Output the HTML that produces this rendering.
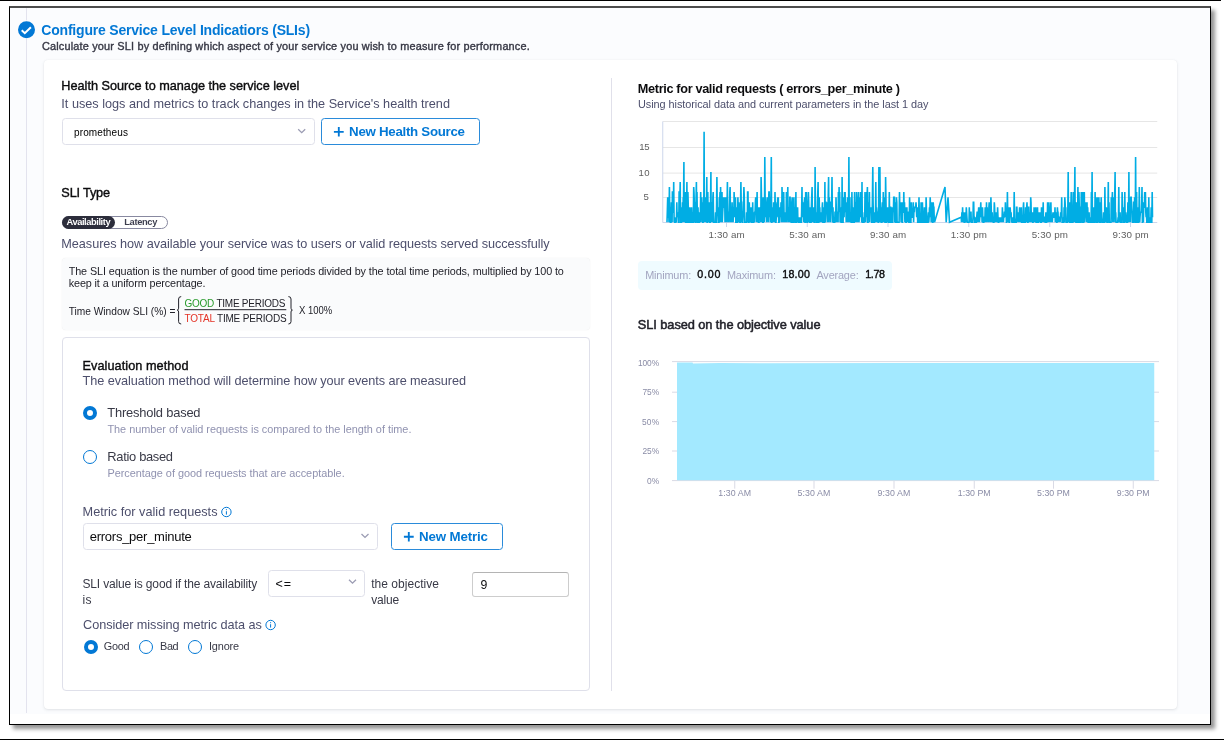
<!DOCTYPE html>
<html>
<head>
<meta charset="utf-8">
<title>Configure Service Level Indicators</title>
<style>
html,body{margin:0;padding:0;}
body{width:1224px;height:740px;background:#fff;position:relative;overflow:hidden;font-family:"Liberation Sans",sans-serif;}
.abs{position:absolute;box-sizing:border-box;}
.t{position:absolute;white-space:pre;line-height:20px;font-family:"Liberation Sans",sans-serif;}
.card{background:#fff;border-radius:4px;box-shadow:0 0 1px rgba(40,41,61,.08),0 1px 3px rgba(96,97,112,.16);}
.sel{background:#fff;border:1px solid #dfe0ea;border-radius:3.5px;}
.btn{background:#fff;border:1px solid #2a8bda;border-radius:3.5px;}
.radio{border-radius:50%;background:#fff;border:1px solid #0278d5;width:14px;height:14px;}
.radio.on{border:4px solid #0278d5;}
svg{position:absolute;left:0;top:0;overflow:visible;}
</style>
</head>
<body>
<!-- outer screenshot frame -->
<div class="abs" style="left:0;top:0;width:1221px;height:1px;background:#000;"></div>
<div class="abs" style="left:0;top:739px;width:1224px;height:1px;background:#000;"></div>
<div class="abs" style="left:9px;top:6px;width:1202px;height:719px;background:#fff;border:1px solid #000;border-top:2px solid #4d4d4d;box-shadow:4px 4px 4px rgba(0,0,0,.42);"></div>
<!-- page background -->
<div class="abs" style="left:10px;top:8px;width:1200px;height:706px;background:#fbfcfe;"></div>
<!-- stepper line + check -->
<div class="abs" style="left:26px;top:8px;width:1px;height:705px;background:#e3e3ee;"></div>
<svg width="1224" height="740">
  <circle cx="26.5" cy="29.7" r="9.4" fill="#fbfcfe"/>
  <circle cx="26.5" cy="29.7" r="8.5" fill="#0278d5"/>
  <path d="M21.7 30.3 L24.8 33.2 L30.9 27.2" fill="none" stroke="#fff" stroke-width="2"/>
</svg>

<!-- main card -->
<div class="abs card" style="left:44px;top:60px;width:1133px;height:649px;"></div>

<!-- health source select -->
<div class="abs sel" style="left:62px;top:118px;width:252.5px;height:27px;"></div>
<!-- new health source button -->
<div class="abs btn" style="left:321px;top:118px;width:159px;height:27px;"></div>

<!-- SLI type pill -->
<div class="abs" style="left:62px;top:215.5px;width:106px;height:13.5px;border:1px solid #8889a0;border-radius:7px;background:#fff;"></div>
<div class="abs" style="left:62px;top:215.5px;width:53px;height:13.5px;border-radius:7px;background:#2c2d3b;"></div>

<!-- equation box -->
<div class="abs" style="left:61.5px;top:258px;width:528.5px;height:72px;background:#fafbfc;border-radius:4px;box-shadow:0 0 1px rgba(40,41,61,.12);"></div>

<!-- evaluation card -->
<div class="abs" style="left:62px;top:337px;width:528px;height:353.5px;background:#fff;border:1px solid #dfe0ea;border-radius:4px;"></div>

<!-- radios -->
<div class="abs radio on" style="left:83.4px;top:406.1px;"></div>
<div class="abs radio" style="left:83.4px;top:449.9px;"></div>
<div class="abs radio on" style="left:83.5px;top:639.9px;"></div>
<div class="abs radio" style="left:139.25px;top:639.9px;"></div>
<div class="abs radio" style="left:188px;top:639.9px;"></div>

<!-- metric select / button -->
<div class="abs sel" style="left:83.25px;top:523px;width:294.5px;height:27px;"></div>
<div class="abs btn" style="left:391px;top:523px;width:112px;height:27px;"></div>
<!-- operator select / value input -->
<div class="abs sel" style="left:268px;top:570px;width:97px;height:26.5px;"></div>
<div class="abs" style="left:472.25px;top:571.75px;width:97px;height:25px;background:#fff;border:1px solid #cdcdcd;border-top-color:#b4b4b4;border-radius:3px;"></div>

<!-- divider -->
<div class="abs" style="left:610.5px;top:78px;width:1px;height:613px;background:#e0e0ea;"></div>

<!-- stats box -->
<div class="abs" style="left:638.25px;top:261.25px;width:253.75px;height:28.75px;background:#effbff;border-radius:4px;"></div>

<!-- icons + charts -->
<svg width="1224" height="740">
  <!-- chevrons -->
  <g fill="none" stroke="#9b9cb3" stroke-width="1.3">
    <path d="M298.2 129.2 L301.7 132.6 L305.2 129.2"/>
    <path d="M361.5 534 L365 537.4 L368.5 534"/>
    <path d="M349 579.7 L352.5 583.1 L356 579.7"/>
  </g>
  <!-- plus icons -->
  <g fill="none" stroke="#0278d5" stroke-width="1.85">
    <path d="M333.9 131.8 H343.7 M338.8 127 V136.6"/>
    <path d="M403.9 536.7 H413.7 M408.8 531.9 V541.5"/>
  </g>
  <!-- info icons -->
  <g fill="none" stroke="#0278d5" stroke-width="1">
    <circle cx="226.4" cy="512" r="4.7"/>
    <path d="M226.4 511.2 V514.6 M226.4 509.2 V510.2"/>
    <circle cx="270.6" cy="625" r="4.7"/>
    <path d="M270.6 624.2 V627.6 M270.6 622.2 V623.2"/>
  </g>
  <!-- equation braces + fraction line -->
  <g fill="none" stroke="#22222a" stroke-width="1">
    <path d="M181.2 296.6 Q178.6 296.6 178.6 299 V308.2 Q178.6 310 177.2 310.1 Q178.6 310.2 178.6 312 V321.6 Q178.6 324 181.2 324"/>
    <path d="M288.4 296.6 Q291 296.6 291 299 V308.2 Q291 310 292.4 310.1 Q291 310.2 291 312 V321.6 Q291 324 288.4 324"/>
    <path d="M184.5 309.7 H286.3"/>
  </g>

  <!-- chart 1 -->
  <g fill="none" stroke="#e6e6e6" stroke-width="1">
    <path d="M662.75 121.5 H1157.25 M662.75 147.5 H1157.25 M662.75 173.1 H1157.25 M662.75 197.5 H1157.25"/>
  </g>
  <g fill="none" stroke="#ccd6eb" stroke-width="1">
    <path d="M662.75 121.5 V222.5 H1157.25"/>
    <path d="M726.5 222.5 V227 M807.25 222.5 V227 M888 222.5 V227 M968.75 222.5 V227 M1049.75 222.5 V227 M1130.5 222.5 V227"/>
  </g>
  <polyline fill="none" stroke="#00ade4" stroke-width="1.6" stroke-linejoin="miter" points="667.0,222.3 667.3,212.2 667.7,197.2 668.0,217.3 668.3,217.3 668.7,212.2 669.0,222.3 669.4,187.1 669.7,212.2 670.0,207.2 670.4,222.3 670.7,222.3 671.0,222.3 671.4,202.2 671.7,207.2 672.1,222.3 672.4,192.1 672.7,192.1 673.1,212.2 673.4,212.2 673.7,182.1 674.1,222.3 674.4,217.3 674.8,222.3 675.1,222.3 675.4,222.3 675.8,222.3 676.1,217.3 676.4,222.3 676.8,202.2 677.1,217.3 677.5,212.2 677.8,217.3 678.1,212.2 678.5,222.3 678.8,222.3 679.1,192.1 679.5,192.1 679.8,202.2 680.2,182.1 680.5,222.3 680.8,222.3 681.2,222.3 681.5,222.3 681.8,207.2 682.2,222.3 682.5,202.2 682.9,222.3 683.2,197.2 683.5,202.2 683.9,161.9 684.2,222.3 684.5,197.2 684.9,217.3 685.2,192.1 685.6,222.3 685.9,222.3 686.2,212.2 686.6,207.2 686.9,182.1 687.2,222.3 687.6,222.3 687.9,192.1 688.3,207.2 688.6,222.3 688.9,222.3 689.3,222.3 689.6,222.3 689.9,207.2 690.3,222.3 690.6,212.2 691.0,222.3 691.3,222.3 691.6,207.2 692.0,222.3 692.3,212.2 692.6,222.3 693.0,222.3 693.3,222.3 693.7,187.1 694.0,192.1 694.3,202.2 694.7,222.3 695.0,202.2 695.3,222.3 695.7,222.3 696.0,202.2 696.4,182.1 696.7,222.3 697.0,192.1 697.4,222.3 697.7,222.3 698.0,207.2 698.4,222.3 698.7,222.3 699.1,222.3 699.4,222.3 699.7,212.2 700.1,222.3 700.4,212.2 700.7,192.1 701.1,222.3 701.4,197.2 701.8,217.3 702.1,212.2 702.4,202.2 702.8,222.3 703.1,222.3 703.4,197.2 703.8,202.2 704.1,131.8 704.4,222.3 704.8,207.2 705.1,197.2 705.5,222.3 705.8,197.2 706.1,202.2 706.5,212.2 706.8,177.0 707.1,222.3 707.5,222.3 707.8,192.1 708.2,222.3 708.5,207.2 708.8,222.3 709.2,202.2 709.5,212.2 709.8,222.3 710.2,222.3 710.5,207.2 710.9,172.0 711.2,222.3 711.5,212.2 711.9,202.2 712.2,212.2 712.5,222.3 712.9,197.2 713.2,192.1 713.6,222.3 713.9,222.3 714.2,222.3 714.6,222.3 714.9,222.3 715.2,222.3 715.6,212.2 715.9,222.3 716.3,222.3 716.6,202.2 716.9,177.0 717.3,212.2 717.6,207.2 717.9,212.2 718.3,222.3 718.6,222.3 719.0,222.3 719.3,197.2 719.6,207.2 720.0,192.1 720.3,222.3 720.6,187.1 721.0,217.3 721.3,207.2 721.7,222.3 722.0,192.1 722.3,222.3 722.7,212.2 723.0,207.2 723.3,197.2 723.7,207.2 724.0,207.2 724.4,207.2 724.7,197.2 725.0,222.3 725.4,207.2 725.7,197.2 726.0,202.2 726.4,222.3 726.7,207.2 727.1,202.2 727.4,182.1 727.7,212.2 728.1,222.3 728.4,212.2 728.7,212.2 729.1,222.3 729.4,212.2 729.8,192.1 730.1,187.1 730.4,207.2 730.8,222.3 731.1,207.2 731.4,212.2 731.8,222.3 732.1,202.2 732.5,222.3 732.8,207.2 733.1,222.3 733.5,212.2 733.8,217.3 734.1,192.1 734.5,207.2 734.8,217.3 735.2,212.2 735.5,197.2 735.8,222.3 736.2,222.3 736.5,222.3 736.8,207.2 737.2,222.3 737.5,222.3 737.9,197.2 738.2,212.2 738.5,222.3 738.9,202.2 739.2,222.3 739.5,212.2 739.9,222.3 740.2,222.3 740.6,202.2 740.9,182.1 741.2,202.2 741.6,222.3 741.9,212.2 742.2,222.3 742.6,222.3 742.9,217.3 743.2,202.2 743.6,202.2 743.9,187.1 744.3,197.2 744.6,222.3 744.9,222.3 745.3,222.3 745.6,222.3 745.9,222.3 746.3,222.3 746.6,212.2 747.0,217.3 747.3,222.3 747.6,192.1 748.0,192.1 748.3,222.3 748.6,222.3 749.0,222.3 749.3,202.2 749.7,222.3 750.0,207.2 750.3,212.2 750.7,222.3 751.0,207.2 751.3,222.3 751.7,222.3 752.0,222.3 752.4,222.3 752.7,202.2 753.0,222.3 753.4,222.3 753.7,222.3 754.0,212.2 754.4,222.3 754.7,212.2 755.1,212.2 755.4,202.2 755.7,197.2 756.1,207.2 756.4,222.3 756.7,217.3 757.1,192.1 757.4,222.3 757.8,217.3 758.1,207.2 758.4,222.3 758.8,222.3 759.1,222.3 759.4,207.2 759.8,217.3 760.1,212.2 760.5,207.2 760.8,222.3 761.1,177.0 761.5,197.2 761.8,222.3 762.1,197.2 762.5,207.2 762.8,222.3 763.2,222.3 763.5,212.2 763.8,197.2 764.2,222.3 764.5,212.2 764.8,156.9 765.2,207.2 765.5,197.2 765.9,217.3 766.2,212.2 766.5,222.3 766.9,207.2 767.2,202.2 767.5,197.2 767.9,207.2 768.2,222.3 768.6,202.2 768.9,192.1 769.2,192.1 769.6,217.3 769.9,207.2 770.2,222.3 770.6,197.2 770.9,202.2 771.3,156.9 771.6,222.3 771.9,222.3 772.3,212.2 772.6,207.2 772.9,217.3 773.3,222.3 773.6,202.2 774.0,222.3 774.3,207.2 774.6,222.3 775.0,192.1 775.3,207.2 775.6,222.3 776.0,222.3 776.3,217.3 776.7,207.2 777.0,202.2 777.3,207.2 777.7,197.2 778.0,217.3 778.3,197.2 778.7,222.3 779.0,222.3 779.3,217.3 779.7,222.3 780.0,207.2 780.4,212.2 780.7,217.3 781.0,202.2 781.4,212.2 781.7,222.3 782.0,187.1 782.4,202.2 782.7,197.2 783.1,222.3 783.4,202.2 783.7,192.1 784.1,217.3 784.4,212.2 784.7,222.3 785.1,217.3 785.4,217.3 785.8,212.2 786.1,222.3 786.4,192.1 786.8,217.3 787.1,222.3 787.4,202.2 787.8,187.1 788.1,217.3 788.5,207.2 788.8,222.3 789.1,217.3 789.5,222.3 789.8,197.2 790.1,197.2 790.5,222.3 790.8,217.3 791.2,222.3 791.5,222.3 791.8,202.2 792.2,197.2 792.5,217.3 792.8,222.3 793.2,222.3 793.5,212.2 793.9,197.2 794.2,222.3 794.5,207.2 794.9,222.3 795.2,222.3 795.5,222.3 795.9,192.1 796.2,222.3 796.6,222.3 796.9,212.2 797.2,222.3 797.6,207.2 797.9,222.3 798.2,217.3 798.6,222.3 798.9,222.3 799.3,217.3 799.6,222.3 799.9,222.3 800.3,222.3 800.6,217.3 800.9,222.3 801.3,222.3 801.6,212.2 802.0,187.1 802.3,217.3 802.6,202.2 803.0,212.2 803.3,202.2 803.6,222.3 804.0,207.2 804.3,202.2 804.7,197.2 805.0,222.3 805.3,222.3 805.7,192.1 806.0,222.3 806.3,192.1 806.7,202.2 807.0,222.3 807.4,222.3 807.7,207.2 808.0,222.3 808.4,192.1 808.7,202.2 809.0,222.3 809.4,207.2 809.7,222.3 810.1,222.3 810.4,207.2 810.7,222.3 811.1,222.3 811.4,207.2 811.7,197.2 812.1,187.1 812.4,222.3 812.8,217.3 813.1,207.2 813.4,217.3 813.8,207.2 814.1,222.3 814.4,222.3 814.8,222.3 815.1,167.0 815.5,212.2 815.8,217.3 816.1,212.2 816.5,222.3 816.8,222.3 817.1,222.3 817.5,202.2 817.8,192.1 818.1,182.1 818.5,222.3 818.8,222.3 819.2,197.2 819.5,217.3 819.8,207.2 820.2,222.3 820.5,217.3 820.8,217.3 821.2,222.3 821.5,212.2 821.9,222.3 822.2,207.2 822.5,202.2 822.9,222.3 823.2,222.3 823.5,207.2 823.9,222.3 824.2,222.3 824.6,222.3 824.9,182.1 825.2,222.3 825.6,202.2 825.9,202.2 826.2,207.2 826.6,202.2 826.9,212.2 827.3,222.3 827.6,212.2 827.9,217.3 828.3,192.1 828.6,177.0 828.9,222.3 829.3,197.2 829.6,207.2 830.0,207.2 830.3,202.2 830.6,222.3 831.0,202.2 831.3,202.2 831.6,207.2 832.0,177.0 832.3,207.2 832.7,222.3 833.0,207.2 833.3,222.3 833.7,222.3 834.0,217.3 834.3,222.3 834.7,222.3 835.0,212.2 835.4,212.2 835.7,222.3 836.0,197.2 836.4,212.2 836.7,222.3 837.0,212.2 837.4,212.2 837.7,217.3 838.1,222.3 838.4,192.1 838.7,212.2 839.1,187.1 839.4,207.2 839.7,192.1 840.1,222.3 840.4,212.2 840.8,207.2 841.1,222.3 841.4,222.3 841.8,222.3 842.1,177.0 842.4,222.3 842.8,222.3 843.1,222.3 843.5,197.2 843.8,212.2 844.1,217.3 844.5,192.1 844.8,212.2 845.1,192.1 845.5,212.2 845.8,202.2 846.2,222.3 846.5,212.2 846.8,207.2 847.2,222.3 847.5,197.2 847.8,222.3 848.2,217.3 848.5,222.3 848.9,156.9 849.2,212.2 849.5,222.3 849.9,197.2 850.2,222.3 850.5,217.3 850.9,212.2 851.2,222.3 851.6,222.3 851.9,192.1 852.2,212.2 852.6,222.3 852.9,207.2 853.2,222.3 853.6,222.3 853.9,222.3 854.2,222.3 854.6,192.1 854.9,207.2 855.3,222.3 855.6,202.2 855.9,207.2 856.3,222.3 856.6,192.1 856.9,197.2 857.3,222.3 857.6,197.2 858.0,222.3 858.3,217.3 858.6,192.1 859.0,222.3 859.3,217.3 859.6,197.2 860.0,207.2 860.3,217.3 860.7,192.1 861.0,202.2 861.3,212.2 861.7,222.3 862.0,182.1 862.3,222.3 862.7,222.3 863.0,222.3 863.4,217.3 863.7,222.3 864.0,222.3 864.4,212.2 864.7,222.3 865.0,192.1 865.4,212.2 865.7,222.3 866.1,207.2 866.4,217.3 866.7,192.1 867.1,197.2 867.4,187.1 867.7,222.3 868.1,222.3 868.4,202.2 868.8,207.2 869.1,212.2 869.4,192.1 869.8,222.3 870.1,207.2 870.4,212.2 870.8,212.2 871.1,212.2 871.5,207.2 871.8,222.3 872.1,222.3 872.5,192.1 872.8,167.0 873.1,202.2 873.5,222.3 873.8,222.3 874.2,222.3 874.5,222.3 874.8,212.2 875.2,222.3 875.5,212.2 875.8,182.1 876.2,222.3 876.5,207.2 876.9,212.2 877.2,212.2 877.5,222.3 877.9,217.3 878.2,222.3 878.5,222.3 878.9,167.0 879.2,202.2 879.6,222.3 879.9,167.0 880.2,202.2 880.6,212.2 880.9,207.2 881.2,222.3 881.6,222.3 881.9,222.3 882.3,202.2 882.6,222.3 882.9,212.2 883.3,192.1 883.6,222.3 883.9,212.2 884.3,207.2 884.6,197.2 885.0,222.3 885.3,222.3 885.6,177.0 886.0,202.2 886.3,222.3 886.6,222.3 887.0,212.2 887.3,217.3 887.7,207.2 888.0,222.3 888.3,207.2 888.7,222.3 889.0,222.3 889.3,192.1 889.7,222.3 890.0,222.3 890.4,207.2 890.7,207.2 891.0,222.3 891.4,222.3 891.7,222.3 892.0,207.2 892.4,222.3 892.7,222.3 893.0,207.2 893.4,212.2 893.7,197.2 894.1,197.2 894.4,197.2 894.7,222.3 895.1,202.2 895.4,222.3 895.7,222.3 896.1,222.3 896.4,197.2 896.8,202.2 897.1,222.3 897.4,222.3 897.8,222.3 898.1,222.3 898.4,222.3 898.8,222.3 899.1,222.3 899.5,192.1 899.8,207.2 900.1,212.2 900.5,202.2 900.8,212.2 901.1,222.3 901.5,207.2 901.8,202.2 902.2,222.3 902.5,222.3 902.8,202.2 903.2,212.2 903.5,212.2 903.8,192.1 904.2,212.2 904.5,202.2 904.9,222.3 905.2,217.3 905.5,207.2 905.9,222.3 906.2,222.3 906.5,212.2 906.9,207.2 907.2,222.3 907.6,212.2 907.9,222.3 908.2,212.2 908.6,212.2 908.9,222.3 909.2,222.3 909.6,197.2 909.9,217.3 910.3,212.2 910.6,222.3 910.9,222.3 911.3,202.2 911.6,212.2 911.9,217.3 912.3,217.3 912.6,212.2 913.0,212.2 913.3,202.2 913.6,222.3 914.0,207.2 914.3,212.2 914.6,207.2 915.0,207.2 915.3,207.2 915.7,207.2 916.0,202.2 916.3,207.2 916.7,217.3 917.0,212.2 917.3,207.2 917.7,222.3 918.0,222.3 918.4,222.3 918.7,212.2 919.0,197.2 919.4,222.3 919.7,222.3 920.0,222.3 920.4,222.3 920.7,222.3 921.1,202.2 921.4,222.3 921.7,222.3 922.1,222.3 922.4,202.2 922.7,212.2 923.1,222.3 923.4,222.3 923.8,222.3 924.1,217.3 924.4,207.2 924.8,222.3 925.1,222.3 925.4,222.3 925.8,222.3 926.1,197.2 926.5,212.2 926.8,217.3 927.1,222.3 927.5,222.3 927.8,222.3 928.1,222.3 928.5,212.2 928.8,222.3 929.1,217.3 929.5,207.2 929.8,217.3 930.2,197.2 930.5,207.2 930.8,202.2 931.2,222.3 931.5,217.3 931.8,202.2 932.2,217.3 932.5,222.3 932.9,222.3 933.2,202.2 933.5,207.2 933.9,207.2 934.2,217.3 934.5,222.3 945.0,187.1 946.2,222.3 948.0,197.2 949.5,222.3 961.2,217.3 961.5,222.3 961.9,212.2 962.2,222.3 962.6,207.2 962.9,217.3 963.2,212.2 963.6,222.3 963.9,212.2 964.2,222.3 964.6,222.3 964.9,222.3 965.3,217.3 965.6,212.2 965.9,222.3 966.3,207.2 966.6,212.2 966.9,217.3 967.3,222.3 967.6,222.3 967.9,222.3 968.3,222.3 968.6,222.3 969.0,222.3 969.3,207.2 969.6,222.3 970.0,217.3 970.3,217.3 970.6,212.2 971.0,212.2 971.3,222.3 971.7,222.3 972.0,222.3 972.3,222.3 972.7,222.3 973.0,217.3 973.3,202.2 973.7,202.2 974.0,217.3 974.4,217.3 974.7,222.3 975.0,222.3 975.4,222.3 975.7,217.3 976.0,222.3 976.4,222.3 976.7,217.3 977.1,212.2 977.4,212.2 977.7,217.3 978.1,222.3 978.4,212.2 978.7,207.2 979.1,217.3 979.4,222.3 979.8,217.3 980.1,207.2 980.4,212.2 980.8,202.2 981.1,217.3 981.4,212.2 981.8,212.2 982.1,222.3 982.5,207.2 982.8,217.3 983.1,222.3 983.5,222.3 983.8,222.3 984.1,217.3 984.5,217.3 984.8,222.3 985.2,207.2 985.5,222.3 985.8,217.3 986.2,222.3 986.5,202.2 986.8,222.3 987.2,207.2 987.5,217.3 987.9,217.3 988.2,217.3 988.5,222.3 988.9,207.2 989.2,202.2 989.5,212.2 989.9,217.3 990.2,222.3 990.6,212.2 990.9,197.2 991.2,207.2 991.6,222.3 991.9,217.3 992.2,212.2 992.6,222.3 992.9,217.3 993.3,222.3 993.6,222.3 993.9,222.3 994.3,202.2 994.6,207.2 994.9,217.3 995.3,222.3 995.6,217.3 996.0,212.2 996.3,222.3 996.6,217.3 997.0,212.2 997.3,222.3 997.6,207.2 998.0,217.3 998.3,222.3 998.7,222.3 999.0,217.3 999.3,222.3 999.7,217.3 1000.0,222.3 1000.3,217.3 1000.7,222.3 1001.0,217.3 1001.4,222.3 1001.7,217.3 1002.0,222.3 1002.4,207.2 1002.7,217.3 1003.0,217.3 1003.4,222.3 1003.7,217.3 1004.0,217.3 1004.4,212.2 1004.7,212.2 1005.1,217.3 1005.4,202.2 1005.7,212.2 1006.1,212.2 1006.4,222.3 1006.7,222.3 1007.1,217.3 1007.4,192.1 1007.8,217.3 1008.1,217.3 1008.4,222.3 1008.8,207.2 1009.1,222.3 1009.4,222.3 1009.8,212.2 1010.1,207.2 1010.5,212.2 1010.8,217.3 1011.1,212.2 1011.5,222.3 1011.8,217.3 1012.1,222.3 1012.5,222.3 1012.8,222.3 1013.2,217.3 1013.5,222.3 1013.8,222.3 1014.2,192.1 1014.5,217.3 1014.8,222.3 1015.2,222.3 1015.5,222.3 1015.9,222.3 1016.2,222.3 1016.5,207.2 1016.9,207.2 1017.2,217.3 1017.5,212.2 1017.9,222.3 1018.2,212.2 1018.6,222.3 1018.9,212.2 1019.2,217.3 1019.6,207.2 1019.9,222.3 1020.2,212.2 1020.6,222.3 1020.9,217.3 1021.3,207.2 1021.6,222.3 1021.9,222.3 1022.3,222.3 1022.6,222.3 1022.9,222.3 1023.3,207.2 1023.6,202.2 1024.0,222.3 1024.3,222.3 1024.6,217.3 1025.0,222.3 1025.3,222.3 1025.6,207.2 1026.0,222.3 1026.3,217.3 1026.7,207.2 1027.0,202.2 1027.3,217.3 1027.7,222.3 1028.0,222.3 1028.3,207.2 1028.7,207.2 1029.0,222.3 1029.4,212.2 1029.7,222.3 1030.0,217.3 1030.4,222.3 1030.7,197.2 1031.0,202.2 1031.4,222.3 1031.7,217.3 1032.1,222.3 1032.4,212.2 1032.7,222.3 1033.1,222.3 1033.4,212.2 1033.7,222.3 1034.1,207.2 1034.4,212.2 1034.8,212.2 1035.1,222.3 1035.4,217.3 1035.8,207.2 1036.1,222.3 1036.4,222.3 1036.8,222.3 1037.1,222.3 1037.5,207.2 1037.8,222.3 1038.1,222.3 1038.5,222.3 1038.8,217.3 1039.1,212.2 1039.5,222.3 1039.8,217.3 1040.2,212.2 1040.5,217.3 1040.8,222.3 1041.2,222.3 1041.5,207.2 1041.8,217.3 1042.2,222.3 1042.5,217.3 1042.8,222.3 1043.2,202.2 1043.5,222.3 1043.9,217.3 1044.2,217.3 1044.5,222.3 1044.9,217.3 1045.2,222.3 1045.5,222.3 1045.9,212.2 1046.2,222.3 1046.6,222.3 1046.9,212.2 1047.2,222.3 1047.6,202.2 1047.9,217.3 1048.2,222.3 1048.6,207.2 1048.9,202.2 1049.3,222.3 1049.6,217.3 1049.9,212.2 1050.3,222.3 1050.6,207.2 1050.9,202.2 1051.3,222.3 1051.6,217.3 1052.0,217.3 1052.3,222.3 1052.6,217.3 1053.0,212.2 1053.3,217.3 1053.6,217.3 1054.0,212.2 1054.3,217.3 1054.7,217.3 1055.0,207.2 1055.3,222.3 1055.7,212.2 1056.0,222.3 1056.3,217.3 1056.7,222.3 1057.0,222.3 1057.4,207.2 1057.7,212.2 1058.0,212.2 1058.4,222.3 1058.7,217.3 1059.0,222.3 1059.4,217.3 1059.7,217.3 1060.1,222.3 1060.4,217.3 1060.7,212.2 1061.1,217.3 1061.4,212.2 1061.7,197.2 1062.1,222.3 1062.4,222.3 1062.8,217.3 1063.1,222.3 1063.4,222.3 1063.8,222.3 1064.1,207.2 1064.4,222.3 1064.8,197.2 1065.1,202.2 1065.5,212.2 1065.8,207.2 1066.1,222.3 1066.5,222.3 1066.8,222.3 1067.1,222.3 1067.5,222.3 1067.8,212.2 1068.2,172.0 1068.5,222.3 1068.8,212.2 1069.2,222.3 1069.5,202.2 1069.8,222.3 1070.2,222.3 1070.5,222.3 1070.9,207.2 1071.2,192.1 1071.5,207.2 1071.9,222.3 1072.2,222.3 1072.5,222.3 1072.9,222.3 1073.2,192.1 1073.6,222.3 1073.9,217.3 1074.2,207.2 1074.6,192.1 1074.9,167.0 1075.2,222.3 1075.6,207.2 1075.9,222.3 1076.3,222.3 1076.6,202.2 1076.9,222.3 1077.3,222.3 1077.6,222.3 1077.9,187.1 1078.3,222.3 1078.6,222.3 1078.9,192.1 1079.3,207.2 1079.6,207.2 1080.0,222.3 1080.3,222.3 1080.6,212.2 1081.0,222.3 1081.3,192.1 1081.6,197.2 1082.0,222.3 1082.3,222.3 1082.7,192.1 1083.0,212.2 1083.3,222.3 1083.7,222.3 1084.0,212.2 1084.3,192.1 1084.7,222.3 1085.0,207.2 1085.4,202.2 1085.7,212.2 1086.0,202.2 1086.4,217.3 1086.7,222.3 1087.0,202.2 1087.4,222.3 1087.7,207.2 1088.1,222.3 1088.4,222.3 1088.7,222.3 1089.1,212.2 1089.4,222.3 1089.7,222.3 1090.1,222.3 1090.4,217.3 1090.8,222.3 1091.1,222.3 1091.4,192.1 1091.8,207.2 1092.1,172.0 1092.4,222.3 1092.8,222.3 1093.1,222.3 1093.5,207.2 1093.8,222.3 1094.1,222.3 1094.5,222.3 1094.8,222.3 1095.1,192.1 1095.5,222.3 1095.8,197.2 1096.2,207.2 1096.5,222.3 1096.8,222.3 1097.2,222.3 1097.5,197.2 1097.8,222.3 1098.2,207.2 1098.5,207.2 1098.9,197.2 1099.2,222.3 1099.5,222.3 1099.9,222.3 1100.2,222.3 1100.5,202.2 1100.9,222.3 1101.2,197.2 1101.6,217.3 1101.9,222.3 1102.2,222.3 1102.6,222.3 1102.9,222.3 1103.2,222.3 1103.6,212.2 1103.9,222.3 1104.3,222.3 1104.6,222.3 1104.9,187.1 1105.3,222.3 1105.6,207.2 1105.9,222.3 1106.3,207.2 1106.6,212.2 1107.0,222.3 1107.3,222.3 1107.6,222.3 1108.0,207.2 1108.3,182.1 1108.6,222.3 1109.0,202.2 1109.3,222.3 1109.7,222.3 1110.0,222.3 1110.3,222.3 1110.7,222.3 1111.0,222.3 1111.3,197.2 1111.7,212.2 1112.0,202.2 1112.4,192.1 1112.7,222.3 1113.0,207.2 1113.4,197.2 1113.7,222.3 1114.0,207.2 1114.4,212.2 1114.7,197.2 1115.1,172.0 1115.4,222.3 1115.7,212.2 1116.1,222.3 1116.4,222.3 1116.7,222.3 1117.1,222.3 1117.4,222.3 1117.7,222.3 1118.1,217.3 1118.4,222.3 1118.8,187.1 1119.1,222.3 1119.4,217.3 1119.8,222.3 1120.1,212.2 1120.4,222.3 1120.8,222.3 1121.1,222.3 1121.5,222.3 1121.8,222.3 1122.1,192.1 1122.5,207.2 1122.8,212.2 1123.1,207.2 1123.5,222.3 1123.8,222.3 1124.2,222.3 1124.5,222.3 1124.8,192.1 1125.2,222.3 1125.5,217.3 1125.8,212.2 1126.2,217.3 1126.5,222.3 1126.9,222.3 1127.2,222.3 1127.5,222.3 1127.9,202.2 1128.2,212.2 1128.5,222.3 1128.9,172.0 1129.2,222.3 1129.6,217.3 1129.9,212.2 1130.2,197.2 1130.6,222.3 1130.9,197.2 1131.2,197.2 1131.6,207.2 1131.9,212.2 1132.3,212.2 1132.6,222.3 1132.9,222.3 1133.3,222.3 1133.6,202.2 1133.9,202.2 1134.3,222.3 1134.6,197.2 1135.0,222.3 1135.3,222.3 1135.6,156.9 1136.0,222.3 1136.3,222.3 1136.6,192.1 1137.0,222.3 1137.3,222.3 1137.7,222.3 1138.0,207.2 1138.3,222.3 1138.7,222.3 1139.0,212.2 1139.3,187.1 1139.7,222.3 1140.0,217.3 1140.4,212.2 1140.7,212.2 1141.0,212.2 1141.4,212.2 1141.7,202.2 1142.0,187.1 1142.4,222.3 1142.7,222.3 1143.1,202.2 1143.4,222.3 1143.7,207.2 1144.1,207.2 1144.4,207.2 1144.7,192.1 1145.1,202.2 1145.4,192.1 1145.8,212.2 1146.1,217.3 1146.4,212.2 1146.8,222.3 1147.1,222.3 1147.4,207.2 1147.8,217.3 1148.1,222.3 1148.5,222.3 1148.8,197.2 1149.1,222.3 1149.5,217.3 1149.8,222.3 1150.1,222.3 1150.5,222.3 1150.8,222.3 1151.2,207.2 1151.5,222.3 1151.8,222.3 1152.2,192.1 1152.5,217.3"/>

  <!-- chart 2 -->
  <g fill="none" stroke="#d9dae5" stroke-width="1">
    <path d="M672 361.6 H1159 M672 392.2 H1159 M672 421.6 H1159 M672 451 H1159 M672 480.6 H1159"/>
    <path d="M734.75 480.6 V488.7 M814 480.6 V488.7 M894 480.6 V488.7 M974.25 480.6 V488.7 M1053.5 480.6 V488.7 M1133.25 480.6 V488.7"/>
  </g>
  <polygon fill="#a3e9ff" points="677,480.2 677,362.4 692.5,362.4 693,363.6 720,363.1 760,363.3 900,363 1154.25,363 1154.25,480.2"/>
</svg>

<!-- texts -->
<div id="txt" style="position:absolute;left:0;top:0;width:1224px;height:740px;will-change:transform;">
<span class="t" style="left:41.30px;top:19.50px;font-size:14px;font-weight:bold;color:#0278d5;letter-spacing:-0.200px;">Configure Service Level Indicatiors (SLIs)</span>
<span class="t" style="left:41.95px;top:36.00px;font-size:10.9px;font-weight:normal;color:#383946;letter-spacing:0.184px;-webkit-text-stroke:0.38px currentColor;">Calculate your SLI by defining which aspect of your service you wish to measure for performance.</span>
<span class="t" style="left:61.37px;top:76.00px;font-size:12.7px;font-weight:normal;color:#0b0b0d;letter-spacing:-0.012px;-webkit-text-stroke:0.38px currentColor;">Health Source to manage the service level</span>
<span class="t" style="left:61.37px;top:94.25px;font-size:12.7px;font-weight:normal;color:#4d4f6c;letter-spacing:-0.014px;">It uses logs and metrics to track changes in the Service's health trend</span>
<span class="t" style="left:74.00px;top:123.10px;font-size:10px;font-weight:normal;color:#000;letter-spacing:0.121px;">prometheus</span>
<span class="t" style="left:349.08px;top:122.00px;font-size:13.3px;font-weight:bold;color:#0278d5;letter-spacing:-0.282px;">New Health Source</span>
<span class="t" style="left:61.37px;top:182.75px;font-size:12.7px;font-weight:normal;color:#0b0b0d;letter-spacing:-0.174px;-webkit-text-stroke:0.38px currentColor;">SLI Type</span>
<span class="t" style="left:66.53px;top:211.80px;font-size:9.3px;font-weight:bold;color:#fff;letter-spacing:-0.424px;">Availability</span>
<span class="t" style="left:124.28px;top:211.80px;font-size:9.3px;font-weight:bold;color:#3d3e4e;letter-spacing:-0.342px;">Latency</span>
<span class="t" style="left:61.37px;top:234.00px;font-size:12.7px;font-weight:normal;color:#4d4f6c;letter-spacing:-0.056px;">Measures how available your service was to users or valid requests served successfully</span>
<span class="t" style="left:68.71px;top:261.00px;font-size:10.8px;font-weight:normal;color:#22222a;letter-spacing:-0.096px;">The SLI equation is the number of good time periods divided by the total time periods, multiplied by 100 to</span>
<span class="t" style="left:68.71px;top:273.00px;font-size:10.8px;font-weight:normal;color:#22222a;letter-spacing:-0.111px;">keep it a uniform percentage.</span>
<span class="t" style="left:68.74px;top:301.50px;font-size:10.2px;font-weight:normal;color:#22222a;letter-spacing:-0.012px;">Time Window SLI (%) =</span>
<span class="t" style="left:184.50px;top:293.80px;font-size:10px;font-weight:normal;color:#22222a;letter-spacing:-0.246px;"><span style="color:#299b2c">GOOD</span> TIME PERIODS</span>
<span class="t" style="left:184.50px;top:308.60px;font-size:10px;font-weight:normal;color:#22222a;letter-spacing:-0.181px;"><span style="color:#e43326">TOTAL</span> TIME PERIODS</span>
<span class="t" style="left:299.30px;top:300.50px;font-size:10px;font-weight:normal;color:#22222a;transform:scaleX(0.9593);transform-origin:0 0;">X</span>
<span class="t" style="left:308.48px;top:300.60px;font-size:10.4px;font-weight:normal;color:#22222a;transform:scaleX(0.9119);transform-origin:0 0;">100%</span>
<span class="t" style="left:82.61px;top:356.40px;font-size:12.7px;font-weight:normal;color:#0b0b0d;letter-spacing:0.050px;-webkit-text-stroke:0.38px currentColor;">Evaluation method</span>
<span class="t" style="left:82.61px;top:371.00px;font-size:12.7px;font-weight:normal;color:#4d4f6c;letter-spacing:-0.070px;">The evaluation method will determine how your events are measured</span>
<span class="t" style="left:107.36px;top:402.50px;font-size:12.9px;font-weight:normal;color:#383946;letter-spacing:-0.205px;">Threshold based</span>
<span class="t" style="left:107.45px;top:419.00px;font-size:10.9px;font-weight:normal;color:#9092b0;letter-spacing:-0.018px;">The number of valid requests is compared to the length of time.</span>
<span class="t" style="left:107.36px;top:446.50px;font-size:12.9px;font-weight:normal;color:#383946;letter-spacing:-0.314px;">Ratio based</span>
<span class="t" style="left:107.45px;top:463.00px;font-size:10.9px;font-weight:normal;color:#9092b0;letter-spacing:-0.028px;">Percentage of good requests that are acceptable.</span>
<span class="t" style="left:82.61px;top:501.75px;font-size:12.7px;font-weight:normal;color:#4d4f6c;letter-spacing:0.009px;">Metric for valid requests</span>
<span class="t" style="left:89.75px;top:527.10px;font-size:13px;font-weight:normal;color:#0b0b0d;letter-spacing:-0.259px;">errors_per_minute</span>
<span class="t" style="left:419.08px;top:527.00px;font-size:13.3px;font-weight:bold;color:#0278d5;letter-spacing:-0.140px;">New Metric</span>
<span class="t" style="left:82.40px;top:573.50px;font-size:12px;font-weight:normal;color:#383946;letter-spacing:-0.147px;">SLI value is good if the availability</span>
<span class="t" style="left:82.40px;top:590.00px;font-size:12px;font-weight:normal;color:#383946;letter-spacing:0.408px;">is</span>
<span class="t" style="left:275.62px;top:573.50px;font-size:12.5px;font-weight:normal;color:#0b0b0d;letter-spacing:0.766px;">&lt;=</span>
<span class="t" style="left:371.15px;top:573.50px;font-size:12px;font-weight:normal;color:#383946;letter-spacing:0.037px;">the objective</span>
<span class="t" style="left:371.15px;top:590.25px;font-size:12px;font-weight:normal;color:#383946;letter-spacing:-0.152px;">value</span>
<span class="t" style="left:480.38px;top:575.00px;font-size:12.3px;font-weight:normal;color:#0b0b0d;letter-spacing:0.513px;">9</span>
<span class="t" style="left:83.11px;top:615.25px;font-size:12.7px;font-weight:normal;color:#4d4f6c;letter-spacing:-0.062px;">Consider missing metric data as</span>
<span class="t" style="left:103.70px;top:636.00px;font-size:10.9px;font-weight:normal;color:#383946;letter-spacing:-0.225px;">Good</span>
<span class="t" style="left:159.96px;top:636.00px;font-size:10.9px;font-weight:normal;color:#383946;letter-spacing:-0.330px;">Bad</span>
<span class="t" style="left:208.96px;top:636.00px;font-size:10.9px;font-weight:normal;color:#383946;letter-spacing:-0.132px;">Ignore</span>
<span class="t" style="left:637.87px;top:78.50px;font-size:12.7px;font-weight:bold;color:#0b0b0d;letter-spacing:-0.341px;">Metric for valid requests ( errors_per_minute )</span>
<span class="t" style="left:637.96px;top:94.25px;font-size:10.9px;font-weight:normal;color:#4d4f6c;letter-spacing:-0.051px;">Using historical data and current parameters in the last 1 day</span>
<span class="t" style="left:645.21px;top:264.75px;font-size:10.9px;font-weight:normal;color:#a3a5c0;letter-spacing:-0.175px;">Minimum:</span>
<span class="t" style="left:697.22px;top:264.25px;font-size:10.7px;font-weight:normal;color:#0b0b0d;letter-spacing:0.800px;-webkit-text-stroke:0.38px currentColor;">0.00</span>
<span class="t" style="left:726.96px;top:264.75px;font-size:10.9px;font-weight:normal;color:#a3a5c0;letter-spacing:-0.179px;">Maximum:</span>
<span class="t" style="left:782.22px;top:264.25px;font-size:10.7px;font-weight:normal;color:#0b0b0d;letter-spacing:0.241px;-webkit-text-stroke:0.38px currentColor;">18.00</span>
<span class="t" style="left:816.46px;top:264.75px;font-size:10.9px;font-weight:normal;color:#a3a5c0;letter-spacing:-0.168px;">Average:</span>
<span class="t" style="left:865.22px;top:264.25px;font-size:10.7px;font-weight:normal;color:#0b0b0d;letter-spacing:-0.367px;-webkit-text-stroke:0.38px currentColor;">1.78</span>
<span class="t" style="left:637.86px;top:314.50px;font-size:12.8px;font-weight:normal;color:#22222a;letter-spacing:-0.075px;-webkit-text-stroke:0.5px currentColor;">SLI based on the objective value</span>
<span class="t" style="left:639.22px;top:137.40px;font-size:9.6px;font-weight:normal;color:#606060;letter-spacing:-0.208px;">15</span>
<span class="t" style="left:638.42px;top:162.90px;font-size:9.6px;font-weight:normal;color:#606060;letter-spacing:0.592px;">10</span>
<span class="t" style="left:643.52px;top:187.40px;font-size:9.6px;font-weight:normal;color:#606060;letter-spacing:0.820px;">5</span>
<span class="t" style="left:708.41px;top:224.60px;font-size:9.8px;font-weight:normal;color:#606060;letter-spacing:0.163px;">1:30 am</span>
<span class="t" style="left:789.16px;top:224.60px;font-size:9.8px;font-weight:normal;color:#606060;letter-spacing:0.163px;">5:30 am</span>
<span class="t" style="left:869.91px;top:224.60px;font-size:9.8px;font-weight:normal;color:#606060;letter-spacing:0.163px;">9:30 am</span>
<span class="t" style="left:950.66px;top:224.60px;font-size:9.8px;font-weight:normal;color:#606060;letter-spacing:0.163px;">1:30 pm</span>
<span class="t" style="left:1031.66px;top:224.60px;font-size:9.8px;font-weight:normal;color:#606060;letter-spacing:0.163px;">5:30 pm</span>
<span class="t" style="left:1112.41px;top:224.60px;font-size:9.8px;font-weight:normal;color:#606060;letter-spacing:0.163px;">9:30 pm</span>
<span class="t" style="left:637.88px;top:352.60px;font-size:8.4px;font-weight:normal;color:#8a8ca6;letter-spacing:-0.055px;">100%</span>
<span class="t" style="left:642.38px;top:382.35px;font-size:8.4px;font-weight:normal;color:#8a8ca6;letter-spacing:-0.005px;">75%</span>
<span class="t" style="left:641.88px;top:411.60px;font-size:8.4px;font-weight:normal;color:#8a8ca6;letter-spacing:0.245px;">50%</span>
<span class="t" style="left:642.38px;top:441.10px;font-size:8.4px;font-weight:normal;color:#8a8ca6;letter-spacing:-0.005px;">25%</span>
<span class="t" style="left:646.88px;top:470.60px;font-size:8.4px;font-weight:normal;color:#8a8ca6;letter-spacing:0.147px;">0%</span>
<span class="t" style="left:718.31px;top:482.80px;font-size:8.8px;font-weight:normal;color:#8a8ca6;letter-spacing:0.085px;">1:30 AM</span>
<span class="t" style="left:797.56px;top:482.80px;font-size:8.8px;font-weight:normal;color:#8a8ca6;letter-spacing:0.085px;">5:30 AM</span>
<span class="t" style="left:877.56px;top:482.80px;font-size:8.8px;font-weight:normal;color:#8a8ca6;letter-spacing:0.085px;">9:30 AM</span>
<span class="t" style="left:957.81px;top:482.80px;font-size:8.8px;font-weight:normal;color:#8a8ca6;letter-spacing:0.004px;">1:30 PM</span>
<span class="t" style="left:1037.06px;top:482.80px;font-size:8.8px;font-weight:normal;color:#8a8ca6;letter-spacing:0.004px;">5:30 PM</span>
<span class="t" style="left:1116.81px;top:482.80px;font-size:8.8px;font-weight:normal;color:#8a8ca6;letter-spacing:0.004px;">9:30 PM</span>
</div>
</body>
</html>
